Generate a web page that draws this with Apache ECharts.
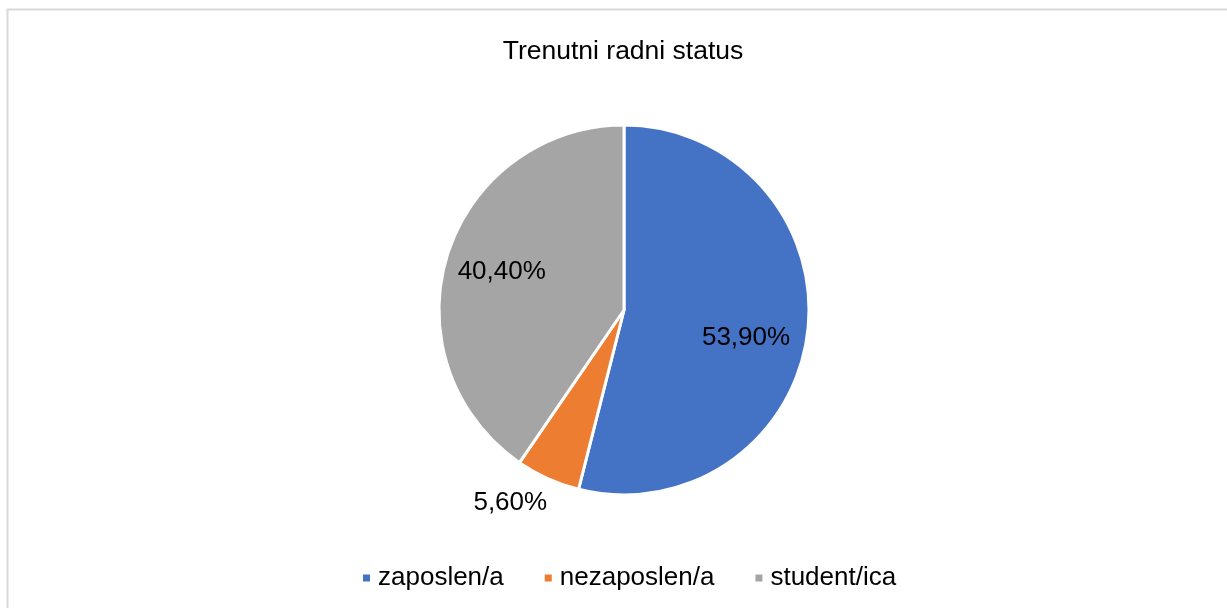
<!DOCTYPE html>
<html>
<head>
<meta charset="utf-8">
<script src="https://cdn.jsdelivr.net/npm/echarts@6/dist/echarts.min.js"></script>
<style>
  html, body { margin: 0; padding: 0; background: #fff; }
  #chart { width: 1227px; height: 608px; }
</style>
</head>
<body>
<div id="chart"></div>
<script>
// podaci
const categories = ['zaposlen/a', 'nezaposlen/a', 'student/ica']
const values = [53.9, 5.6, 40.4]
const colors = ['#4472C4', '#ED7D31', '#A5A5A5']

const font = '"Liberation Sans", Arial, sans-serif'
const center = [624, 310]

const fmt = (v) => v.toFixed(2).replace('.', ',') + '%'

// pomaci oznaka (kao u Excelu)
const labelShift = [
  { dx: -5, dy: 12 },
  { dx: -61, dy: 76 },
  {}
]

const chart = echarts.init(document.getElementById('chart'))

const option = {
  color: colors,
  title: {
    text: 'Trenutni radni status',
    left: 618,
    textAlign: 'center',
    top: 33,
    textStyle: { fontFamily: font, fontSize: 26.5, fontWeight: 'normal', color: '#000' }
  },
  legend: {
    data: categories,
    bottom: 12,
    left: 356,
    itemWidth: 9,
    itemHeight: 9,
    itemGap: 39,
    icon: 'rect',
    textStyle: { fontFamily: font, fontSize: 26, color: '#000', padding: [0, 0, 0, 2] }
  },
  graphic: [{
    type: 'rect',
    left: 5,
    top: 7,
    shape: { width: 1300, height: 700 },
    style: { fill: 'none', stroke: '#d9d9d9', lineWidth: 2 },
    silent: true
  }],
  series: [
    {
      // sami isječci
      type: 'pie',
      center: center,
      radius: [0, 185],
      startAngle: 90,
      clockwise: true,
      itemStyle: { borderColor: '#fff', borderWidth: 3 },
      label: { show: false },
      labelLine: { show: false },
      emphasis: { scale: false },
      data: categories.map((name, i) => ({ name, value: values[i] }))
    },
    {
      // prozirni sloj samo za oznake
      type: 'pie',
      center: center,
      radius: [0, 250],
      startAngle: 90,
      clockwise: true,
      silent: true,
      itemStyle: { color: 'transparent', borderWidth: 0 },
      labelLine: { show: false },
      label: {
        show: true,
        position: 'inside',
        fontFamily: font,
        fontSize: 26,
        color: '#000',
        formatter: (p) => fmt(p.value)
      },
      labelLayout: (p) => labelShift[p.dataIndex],
      data: categories.map((name, i) => ({ name, value: values[i] }))
    }
  ]
}

chart.setOption(option)
</script>
</body>
</html>
